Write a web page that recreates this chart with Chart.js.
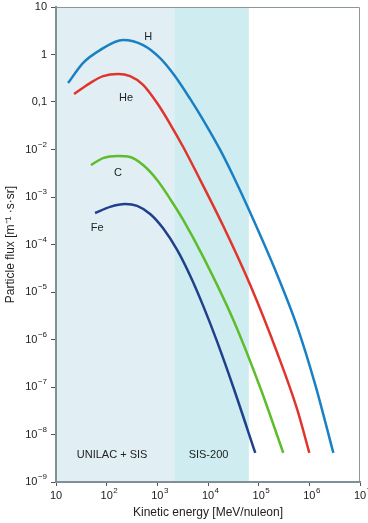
<!DOCTYPE html>
<html lang="en">
<head>
    <meta charset="UTF-8">
    <title>Particle flux vs kinetic energy</title>
    <script src="https://cdn.jsdelivr.net/npm/chart.js"></script>
    <style>
        html, body { margin: 0; padding: 0; background: #fff; }
    </style>
</head>
<body>
    <canvas id="myChart" width="368" height="523"></canvas>
    <script>
        // Curves (energy in MeV/nucleon, flux in 1/(m2 s sr))
        const hEnergy = [17.3, 34, 74, 211, 524, 1135, 2150, 4450, 8000, 17400, 31500, 62000, 233000, 580000, 1315000, 2980000];
        const hFlux = [0.25, 0.66, 1.24, 2.02, 1.58, 0.84, 0.37, 0.116, 0.042, 9.8e-3, 2.77e-3, 5.86e-4, 2.28e-5, 1.83e-6, 1.1e-7, 4.1e-9];

        const heEnergy = [22.7, 47, 85, 168, 290, 524, 990, 1790, 3240, 6120, 20000, 68200, 233000, 580000, 1000000];
        const heFlux = [0.147, 0.25, 0.35, 0.39, 0.35, 0.23, 0.095, 0.0344, 0.0113, 3.05e-3, 2.45e-4, 1.4e-5, 5.2e-7, 3.3e-8, 4.1e-9];

        const cEnergy = [49, 85, 168, 290, 524, 990, 1790, 3240, 8040, 31500, 108000, 306000];
        const cFlux = [4.7e-3, 6.6e-3, 7.3e-3, 6.95e-3, 4.7e-3, 2.28e-3, 9.1e-4, 3.3e-4, 5.5e-5, 2.6e-6, 9.5e-8, 4.1e-9];

        const feEnergy = [59, 117, 231, 399, 721, 1300, 2460, 4450, 8040, 15200, 31500, 85700];
        const feFlux = [4.6e-4, 6.2e-4, 7.1e-4, 6.5e-4, 4.4e-4, 2.2e-4, 7.7e-5, 2.2e-5, 5.1e-6, 8.9e-7, 1.0e-7, 4.1e-9];

        // curve names and where their labels sit (data coordinates)
        const curveNames = ['H', 'He', 'C', 'Fe'];
        const labelEnergy = [660, 242, 168, 65];
        const labelFlux = [2.33, 0.121, 3.2e-3, 2.2e-4];

        // accelerator ranges
        const regionBounds = [10, 2150, 64000];
        const regionLabels = ['UNILAC + SIS', 'SIS-200'];

        // tick labels
        const xTickValues = [10, 1e2, 1e3, 1e4, 1e5, 1e6, 1e7];
        const xTickBase = ['10', '10', '10', '10', '10', '10', '10'];
        const xTickExp = ['', '2', '3', '4', '5', '6', '7'];
        const yTickValues = [10, 1, 0.1, 1e-2, 1e-3, 1e-4, 1e-5, 1e-6, 1e-7, 1e-8, 1e-9];
        const yTickBase = ['10', '1', '0,1', '10', '10', '10', '10', '10', '10', '10', '10'];
        const yTickExp = ['', '', '', '\u22122', '\u22123', '\u22124', '\u22125', '\u22126', '\u22127', '\u22128', '\u22129'];

        const FONT = '"Liberation Sans", Arial, sans-serif';
        const TEXT = '#222';

        function pts(xs, ys) {
            return xs.map((v, i) => ({ x: v, y: ys[i] }));
        }

        // "10" with a raised exponent
        function drawPow(ctx, base, exp, x, y, align) {
            ctx.font = '11px ' + FONT;
            const bw = ctx.measureText(base).width;
            ctx.font = '8px ' + FONT;
            const ew = exp ? ctx.measureText(exp).width + 0.5 : 0;
            const left = align === 'right' ? x - bw - ew : x - bw / 2;
            ctx.textAlign = 'left';
            ctx.textBaseline = 'middle';
            ctx.font = '11px ' + FONT;
            ctx.fillText(base, left, y);
            if (exp) {
                ctx.font = '8px ' + FONT;
                ctx.fillText(exp, left + bw + 0.5, y - 5);
            }
        }

        const decor = {
            id: 'decor',
            beforeDraw(chart) {
                const { ctx, chartArea: a, scales: { x } } = chart;
                const fills = ['#e1eff5', '#cfedf0'];
                ctx.save();
                for (let i = 0; i < regionLabels.length; i++) {
                    const l = x.getPixelForValue(regionBounds[i]);
                    const r = x.getPixelForValue(regionBounds[i + 1]);
                    ctx.fillStyle = fills[i];
                    ctx.fillRect(l, a.top, r - l, a.bottom - a.top);
                }
                ctx.restore();
            },
            afterDraw(chart) {
                const { ctx, chartArea: a, scales: { x, y } } = chart;
                ctx.save();
                // top and right frame
                ctx.strokeStyle = '#8c9599';
                ctx.lineWidth = 1;
                ctx.beginPath();
                ctx.moveTo(a.left, a.top + 0.5);
                ctx.lineTo(a.right - 0.5, a.top + 0.5);
                ctx.lineTo(a.right - 0.5, a.bottom);
                ctx.stroke();

                ctx.fillStyle = TEXT;
                yTickValues.forEach((v, i) => {
                    drawPow(ctx, yTickBase[i], yTickExp[i], a.left - 9, y.getPixelForValue(v), 'right');
                });
                xTickValues.forEach((v, i) => {
                    drawPow(ctx, xTickBase[i], xTickExp[i], x.getPixelForValue(v), a.bottom + 14, 'center');
                });

                // curve names
                ctx.font = '11px ' + FONT;
                ctx.textAlign = 'center';
                ctx.textBaseline = 'middle';
                curveNames.forEach((n, i) => {
                    ctx.fillText(n, x.getPixelForValue(labelEnergy[i]), y.getPixelForValue(labelFlux[i]));
                });

                // accelerator names
                regionLabels.forEach((n, i) => {
                    const l = x.getPixelForValue(regionBounds[i]);
                    const r = x.getPixelForValue(regionBounds[i + 1]);
                    ctx.fillText(n, (l + r) / 2 - 3, a.bottom - 27);
                });
                ctx.restore();
            }
        };

        const ctx = document.getElementById('myChart').getContext('2d');
        const lineStyle = { borderWidth: 2.5, pointRadius: 0, cubicInterpolationMode: 'monotone', fill: false };

        new Chart(ctx, {
            type: 'line',
            data: {
                datasets: [
                    { label: 'H', data: pts(hEnergy, hFlux), borderColor: '#1a80c4', ...lineStyle },
                    { label: 'He', data: pts(heEnergy, heFlux), borderColor: '#e0352d', ...lineStyle },
                    { label: 'C', data: pts(cEnergy, cFlux), borderColor: '#5dbd2c', ...lineStyle },
                    { label: 'Fe', data: pts(feEnergy, feFlux), borderColor: '#21408c', ...lineStyle }
                ]
            },
            options: {
                responsive: false,
                animation: false,
                layout: { padding: { top: 7, right: 8, left: 0, bottom: 0 } },
                plugins: {
                    legend: { display: false },
                    tooltip: { enabled: false }
                },
                scales: {
                    x: {
                        type: 'logarithmic',
                        min: 10,
                        max: 1e7,
                        afterBuildTicks: s => { s.ticks = xTickValues.map(v => ({ value: v })); },
                        afterFit: s => { s.height = 41; },
                        ticks: { display: false },
                        grid: { drawOnChartArea: false, drawTicks: true, tickLength: 4, color: '#555' },
                        border: { color: '#7f9096', width: 2 },
                        title: {
                            display: true,
                            text: 'Kinetic energy [MeV/nuleon]',
                            color: TEXT,
                            font: { family: FONT, size: 12 },
                            padding: { top: 0, bottom: 3 }
                        }
                    },
                    y: {
                        type: 'logarithmic',
                        min: 1e-9,
                        max: 10,
                        afterBuildTicks: s => { s.ticks = yTickValues.map(v => ({ value: v })); },
                        afterFit: s => { s.width = 56; },
                        ticks: { display: false },
                        grid: { drawOnChartArea: false, drawTicks: true, tickLength: 5, color: '#555' },
                        border: { color: '#7f9096', width: 2 },
                        title: {
                            display: true,
                            text: 'Particle flux [m\u207B\u00B9 \u00B7s\u00B7sr]',
                            color: TEXT,
                            font: { family: FONT, size: 12 },
                            padding: { top: 3, bottom: 0 }
                        }
                    }
                }
            },
            plugins: [decor]
        });
    </script>
</body>
</html>
